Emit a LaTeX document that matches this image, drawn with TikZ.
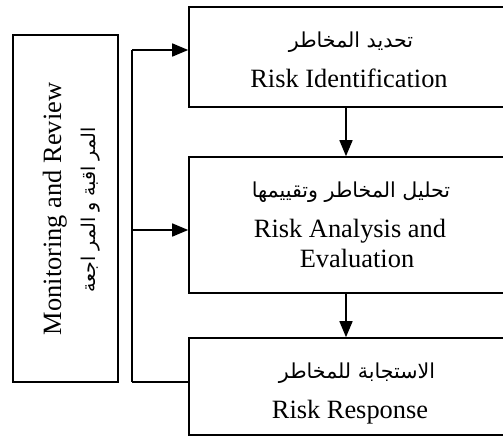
\documentclass[tikz,border=0pt]{standalone}
\usepackage{fontspec}
\setmainfont{Liberation Serif}
\newfontfamily\arabicfont[Script=Arabic]{DejaVu Sans}
\TeXXeTstate=1
\usetikzlibrary{arrows.meta}
\begin{document}
\begin{tikzpicture}[x=1pt,y=-1pt,
  box/.style={draw,line width=1.6pt,inner sep=0pt},
  conn/.style={line width=1.6pt},
  arr/.style={conn,-{Triangle[length=16pt,width=13pt]}},
  en/.style={inner sep=0pt,anchor=base,font=\fontsize{26.4}{30}\selectfont},
  ar/.style={inner sep=0pt,anchor=base,font=\arabicfont\fontsize{20.6}{24}\selectfont}]
\useasboundingbox (0,0) rectangle (503,436);
\node[box,minimum width=105pt,minimum height=347pt] (mon) at (65.5,208.5) {};
\node[box,minimum width=322pt,minimum height=100pt] (ident) at (350,57) {};
\node[box,minimum width=322pt,minimum height=136pt] (anal) at (350,225) {};
\node[box,minimum width=322pt,minimum height=97pt] (resp) at (350,386.5) {};
% texts
\node[en,rotate=90] (monen) at (61,209) {Monitoring and Review};
\node[ar,rotate=90,font=\arabicfont\fontsize{19}{22}\selectfont] (monar) at (95,210) {\beginR المر اقبة و المر اجعة\endR};
\node[ar] (identar) at (351,48) {\beginR تحديد المخاطر\endR};
\node[en] (identen) at (349,87) {Risk Identification};
\node[ar] (analar) at (351,197) {\beginR تحليل المخاطر وتقييمها\endR};
\node[en] (analen1) at (350,237) {Risk Analysis and};
\node[en] (analen2) at (357,267) {Evaluation};
\node[ar] (respar) at (357,378) {\beginR الاستجابة للمخاطر\endR};
\node[en] (respen) at (350,418) {Risk Response};
% connectors
\coordinate (b1) at (132,50);
\coordinate (b2) at (132,230);
\coordinate (b3) at (132,382);
\coordinate (vx) at (346,0);
\draw[conn] (b1) -- (b3);
\draw[arr] (b1) -- (b1 -| ident.west);
\draw[arr] (b2) -- (b2 -| anal.west);
\draw[conn] (b3) -- (b3 -| resp.west);
\draw[arr] (ident.south -| vx) -- (anal.north -| vx);
\draw[arr] (anal.south -| vx) -- (resp.north -| vx);
\end{tikzpicture}
\end{document}
